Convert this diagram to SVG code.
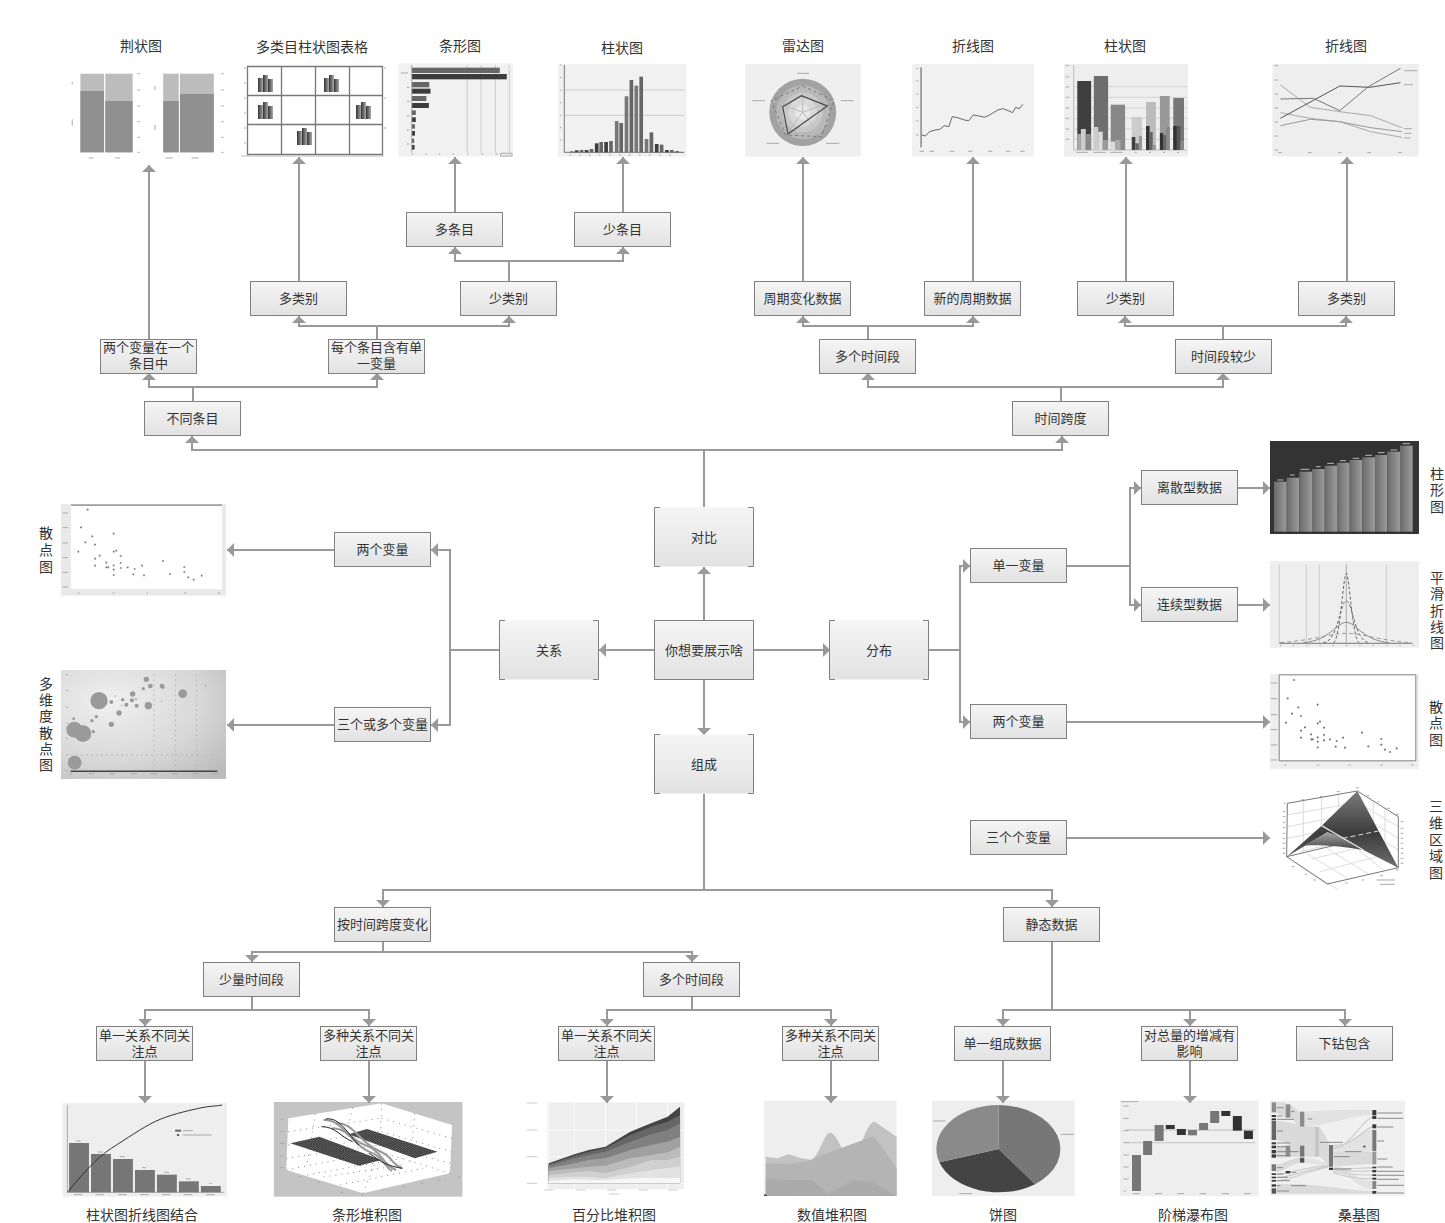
<svg xmlns="http://www.w3.org/2000/svg" width="1445" height="1223" viewBox="0 0 1445 1223">
<style>
text{font-family:"Liberation Sans","Noto Sans CJK SC",sans-serif;fill:#333;text-anchor:middle}
.n text{font-size:13px}
.t{font-size:14px}
.n rect{fill:url(#ng);stroke:#808080;stroke-width:1}
.b rect{fill:url(#ng);stroke:none}
.b path{fill:none;stroke:#808080;stroke-width:1}
#connectors path{fill:none;stroke:#999;stroke-width:2}
.ar{marker-end:url(#arrow)}
.ch *{vector-effect:non-scaling-stroke}
.tk{fill:none;stroke:#aaa;stroke-width:1}
</style>
<defs>
<linearGradient id="ng" x1="0" y1="0" x2="0" y2="1"><stop offset="0" stop-color="#f5f5f5"/><stop offset="1" stop-color="#e2e2e2"/></linearGradient>
<linearGradient id="barh" x1="0" y1="0" x2="1" y2="0"><stop offset="0" stop-color="#6a6a6a"/><stop offset="1" stop-color="#9c9c9c"/></linearGradient>
<linearGradient id="ic" x1="0" y1="0" x2="1" y2="0"><stop offset="0" stop-color="#333"/><stop offset="1" stop-color="#aaa"/></linearGradient>
<linearGradient id="sf" gradientUnits="userSpaceOnUse" x1="0" y1="18" x2="0" y2="248"><stop offset="0" stop-color="#7c7c7c"/><stop offset=".55" stop-color="#3c3c3c"/><stop offset="1" stop-color="#6e6e6e"/></linearGradient>
<linearGradient id="sf2" x1="0" y1="0" x2="0" y2="1"><stop offset="0" stop-color="#a4a4a4"/><stop offset="1" stop-color="#454545"/></linearGradient>
<radialGradient id="bub" cx=".3" cy=".3" r=".9"><stop offset="0" stop-color="#f0f0f0"/><stop offset=".6" stop-color="#d8d8d8"/><stop offset="1" stop-color="#bcbcbc"/></radialGradient>
<pattern id="hatch" patternUnits="userSpaceOnUse" width="7" height="7"><rect width="7" height="7" fill="#666"/><path d="M0 0L7 7M7 0L0 7" stroke="#222" stroke-width="1.500"/></pattern>
<marker id="arrow" markerUnits="userSpaceOnUse" markerWidth="8" markerHeight="16" refX="7" refY="7" orient="auto"><path d="M0 0L7 7L0 14z" fill="#999"/></marker>
<g id="ico"><rect width="5" height="14" y="3" fill="url(#ic)"/><rect x="5" width="5" height="17" fill="url(#ic)"/><rect x="10" y="4" width="5" height="13" fill="url(#ic)"/></g>
</defs>

<g id="chart-jing" class="ch" transform="translate(60 30) scale(.408 .3333)">
<rect x="50" y="131" width="58" height="236" fill="#bcbcbc"/><rect x="111" y="131" width="67" height="236" fill="#bcbcbc"/>
<rect x="50" y="183" width="58" height="184" fill="#909090"/><rect x="111" y="213" width="67" height="154" fill="#909090"/>
<rect x="253" y="131" width="38" height="236" fill="#bcbcbc"/><rect x="294" y="131" width="83" height="236" fill="#bcbcbc"/>
<rect x="253" y="213" width="38" height="154" fill="#909090"/><rect x="294" y="192" width="83" height="175" fill="#909090"/>
<path class="tk" d="M190 131h6M190 180h6M190 228h6M190 275h6M190 322h6M190 367h6M395 131h6M395 180h6M395 228h6M395 275h6M395 322h6M395 367h6M30 155v8M30 268v20M233 168v12M233 285v15M70 384h12M135 384h12M258 384h18M322 384h18"/>
</g>

<g id="chart-grid" transform="translate(60 30)">
<path d="M187.500 36.500H322.500V124.500H187.500zM221.500 36.500V124.500M255.500 36.500V124.500M289.500 36.500V124.500M187.500 65.500H322.500M187.500 94.500H322.500" fill="none" stroke="#777" stroke-width="1.300"/>
<path d="M181 126H324" stroke="#bbb" fill="none" stroke-width="1"/>
<use href="#ico" x="198" y="45"/><use href="#ico" x="264" y="45"/><use href="#ico" x="198" y="72"/><use href="#ico" x="296" y="72"/><use href="#ico" x="237" y="98"/>
<path d="M184.500 38h1M184.500 53h1M184.500 68h1M184.500 83h1M184.500 98h1M184.500 113h1M324.500 38h1M324.500 68h1M324.500 98h1" stroke="#555" fill="none"/>
</g>

<g id="chart-hbar" class="ch" transform="translate(60 30) scale(.408 .3333)">
<rect x="830" y="100" width="280" height="280" fill="#f1f1f1"/>
<path d="M998 105V368M1032 105V368M1067 105V368M1101 105V368" stroke="#ccc" fill="none"/>
<g fill="#666"><rect x="862" y="113" width="216" height="16"/><rect x="862" y="156" width="43" height="16"/><rect x="862" y="198" width="36" height="15"/><rect x="862" y="241" width="10" height="14"/><rect x="862" y="283" width="8" height="13"/><rect x="862" y="326" width="6" height="13"/></g>
<g fill="#3c3c3c"><rect x="862" y="132" width="233" height="16"/><rect x="862" y="176" width="46" height="15"/><rect x="862" y="219" width="42" height="15"/><rect x="862" y="262" width="10" height="14"/><rect x="862" y="303" width="8" height="14"/><rect x="862" y="345" width="7" height="14"/></g>
<path class="tk" d="M862 105V368M835 129h18M850 172h6M850 214h6M850 258h6M850 300h6M850 342h6M862 372h4M895 372h4M928 372h4M962 372h4M998 372h4M1032 372h6M1067 372h6M1080 370h28v8h-28z"/>
</g>

<g id="chart-vbar" class="ch" transform="translate(60 30) scale(.408 .3333)">
<rect x="1220" y="102" width="316" height="278" fill="#f1f1f1"/>
<path d="M1236 180H1530M1236 256H1530" stroke="#ccc" fill="none"/>
<path d="M1236 105V367H1530" stroke="#777" fill="none"/>
<g fill="#666"><rect x="1250" y="364" width="9" height="3"/><rect x="1274" y="360" width="9" height="7"/><rect x="1298" y="357" width="9" height="10"/><rect x="1322" y="336" width="9" height="31"/><rect x="1346" y="333" width="9" height="34"/><rect x="1371" y="279" width="9" height="88"/><rect x="1396" y="150" width="9" height="217"/><rect x="1420" y="140" width="9" height="227"/><rect x="1445" y="307" width="9" height="60"/><rect x="1470" y="344" width="9" height="23"/><rect x="1495" y="360" width="9" height="7"/><rect x="1520" y="366" width="9" height="1"/></g>
<g fill="#3e3e3e"><rect x="1262" y="361" width="9" height="6"/><rect x="1286" y="360" width="9" height="7"/><rect x="1311" y="340" width="9" height="27"/><rect x="1334" y="336" width="9" height="31"/><rect x="1458" y="342" width="9" height="25"/><rect x="1483" y="360" width="9" height="7"/><rect x="1508" y="364" width="9" height="3"/></g>
<g fill="#777"><rect x="1384" y="199" width="9" height="168"/><rect x="1408" y="167" width="9" height="200"/><rect x="1433" y="327" width="9" height="40"/><rect x="1360" y="273" width="9" height="94"/></g>
<path class="tk" d="M1225 105h4M1225 143h4M1225 181h4M1225 218h4M1225 256h4M1225 293h4M1225 330h4M1248 375h5M1272 375h5M1296 375h5M1320 375h5M1345 375h5M1370 375h5M1394 375h5M1418 375h5M1443 375h5M1468 375h5M1493 375h5"/>
</g>

<g id="chart-radar" class="ch" transform="translate(730 30) scale(.4464 .3333)">
<rect x="34" y="102" width="259" height="278" fill="#efefef"/>
<ellipse cx="163" cy="247" rx="75" ry="101" fill="#a2a2a2"/>
<ellipse cx="163" cy="247" rx="60" ry="81" fill="#b8b8b8"/>
<ellipse cx="163" cy="247" rx="45" ry="60" fill="#c8c8c8"/>
<ellipse cx="163" cy="247" rx="32" ry="43" fill="#d8d8d8"/>
<ellipse cx="163" cy="247" rx="17" ry="23" fill="#e8e8e8"/>
<path d="M163 247V168M163 247L233 212M163 247L205 320M163 247L125 315M163 247L92 212" fill="none" stroke="#bbb"/>
<path d="M163 168L233 212L205 320L125 315L92 212z" fill="none" stroke="#777" stroke-dasharray="3 3"/>
<path d="M118 230L160 197L218 228L130 312z" fill="none" stroke="#444" stroke-width="1.100"/>
<path class="tk" d="M150 130h27M50 212h28M248 212h28M82 340h28M215 340h30"/>
</g>

<g id="chart-line1" class="ch" transform="translate(730 30) scale(.4464 .3333)">
<rect x="408" y="102" width="273" height="278" fill="#f1f1f1"/>
<path d="M428 112V352" stroke="#555" fill="none"/>
<path d="M430 315L438 318L447 305L460 300L470 298L480 287L490 290L498 260L510 263L525 270L535 272L545 255L558 258L570 262L580 256L590 248L600 240L612 236L625 243L633 248L640 232L648 236L656 223" fill="none" stroke="#666"/>
<path class="tk" d="M417 115h5M417 153h5M417 193h5M417 233h5M417 273h5M417 315h5M425 364h10M447 364h10M492 364h10M533 364h10M578 364h10M618 364h10M650 364h10"/>
</g>

<g id="chart-col2" class="ch" transform="translate(730 30) scale(.4464 .3333)">
<rect x="748" y="102" width="278" height="278" fill="#eee"/>
<path d="M770 170H1024M770 202H1024M770 234H1024M770 265H1024M770 297H1024M770 328H1024" stroke="#d4d4d4" fill="none"/>
<path d="M770 105V360H1024" stroke="#bbb" fill="none"/>
<rect x="778" y="153" width="31" height="207" fill="#3f3f3f"/><rect x="778" y="312" width="8" height="48" fill="#aaa"/><rect x="786" y="297" width="11" height="63" fill="#ccc"/><rect x="797" y="312" width="12" height="48" fill="#888"/>
<rect x="815" y="138" width="32" height="222" fill="#6e6e6e"/><rect x="815" y="291" width="10" height="69" fill="#ccc"/><rect x="825" y="305" width="10" height="55" fill="#ddd"/><rect x="835" y="330" width="12" height="30" fill="#999"/>
<rect x="853" y="222" width="32" height="138" fill="#ccc"/><rect x="853" y="225" width="32" height="135" fill="#888"/><rect x="853" y="335" width="10" height="25" fill="#ddd"/><rect x="863" y="330" width="12" height="30" fill="#aaa"/><rect x="875" y="303" width="10" height="57" fill="#8a8a8a"/>
<rect x="900" y="261" width="23" height="99" fill="#ccc"/><rect x="900" y="321" width="8" height="39" fill="#3f3f3f"/><rect x="908" y="340" width="8" height="20" fill="#666"/><rect x="916" y="318" width="7" height="42" fill="#999"/>
<rect x="932" y="216" width="22" height="144" fill="#bbb"/><rect x="932" y="288" width="8" height="72" fill="#333"/><rect x="940" y="306" width="7" height="54" fill="#666"/><rect x="947" y="345" width="7" height="15" fill="#999"/>
<rect x="963" y="198" width="22" height="162" fill="#999"/><rect x="963" y="309" width="7" height="51" fill="#333"/><rect x="970" y="315" width="7" height="45" fill="#666"/><rect x="977" y="291" width="8" height="69" fill="#888"/>
<rect x="993" y="204" width="24" height="156" fill="#777"/><rect x="993" y="288" width="8" height="72" fill="#333"/><rect x="1001" y="288" width="8" height="72" fill="#555"/><rect x="1009" y="333" width="8" height="27" fill="#888"/>
<path class="tk" d="M752 107h8M752 141h8M752 171h8M752 202h8M752 234h8M752 265h8M752 297h8M752 328h8M776 367h26M814 367h28M852 367h28M906 367h5M938 367h5M970 367h5M1001 367h5"/>
</g>

<g id="chart-line2" class="ch" transform="translate(730 30) scale(.4464 .3333)">
<rect x="1215" y="102" width="328" height="278" fill="#eee"/>
<g fill="none" stroke-width="1">
<path d="M1233 165L1300 232L1366 245L1435 257L1505 293" stroke="#aaa"/>
<path d="M1233 248L1300 265L1366 275L1435 305L1505 322" stroke="#aaa"/>
<path d="M1233 287L1300 268L1366 275L1435 293L1505 305" stroke="#999"/>
<path d="M1233 207L1307 205L1366 242L1430 170L1502 115" stroke="#777"/>
<path d="M1233 265L1366 168L1433 172L1502 158" stroke="#555"/>
</g>
<path class="tk" d="M1220 107h8M1220 150h8M1220 192h8M1220 234h8M1220 276h8M1220 318h8M1220 360h8M1228 368h8M1295 368h8M1362 368h8M1428 368h8M1497 368h8M1510 122h30M1510 164h20M1510 296h18M1510 310h16M1510 324h14"/>
</g>

<g id="chart-scatter-left" class="ch" transform="translate(30 495) scale(.3333)">
<rect x="93" y="27" width="495" height="275" fill="#e9e9e9"/>
<rect x="123" y="30" width="453" height="252" fill="#fff"/>
<path d="M123 30.500H576" stroke="#808080" stroke-width="1.300" fill="none"/>
<path d="M173 44h.1M153 97h.1M187 124h.1M166 142h.1M195 149h.1M251 116h.1M145 170h.1M251 170h.1M259 167h.1M195 191h.1M209 182h.1M272 183h.1M195 212h.1M229 203h.1M229 217h.1M235 217h.1M251 211h.1M251 224h.1M272 204h.1M272 219h.1M293 217h.1M314 222h.1M336 212h.1M399 198h.1M251 240h.1M310 238h.1M342 241h.1M420 237h.1M463 216h.1M463 231h.1M475 247h.1M491 254h.1M515 242h.1" stroke="#777" stroke-width="1.700" stroke-linecap="square" fill="none"/>
<path class="tk" d="M98 54h16M98 98h16M98 144h16M98 188h16M98 232h16M98 276h16M143 294h6M248 294h6M350 294h4M462 294h6M563 294h8"/>
</g>

<g id="chart-bubble" class="ch" transform="translate(30 495) scale(.3333)">
<rect x="93" y="525" width="495" height="327" fill="url(#bub)"/>
<path d="M372 538V828M436 538V828M500 538V828M123 780H560" stroke="#bbb" stroke-dasharray="2 3" fill="none"/>
<path d="M122 829H562" stroke="#444" stroke-width="1.500" fill="none"/>
<g fill="#9a9a9a"><circle cx="207" cy="617" r="26"/><circle cx="133" cy="704" r="24"/><circle cx="159" cy="716" r="25"/><circle cx="134" cy="803" r="21"/><circle cx="458" cy="596" r="13"/><circle cx="355" cy="632" r="11"/><circle cx="267" cy="654" r="8"/><circle cx="244" cy="688" r="8"/><circle cx="349" cy="553" r="8"/><circle cx="308" cy="597" r="8"/><circle cx="361" cy="573" r="7"/><circle cx="396" cy="573" r="7"/><circle cx="399" cy="577" r="5"/><circle cx="340" cy="581" r="5"/><circle cx="244" cy="621" r="6"/><circle cx="278" cy="614" r="5"/><circle cx="289" cy="629" r="6"/><circle cx="306" cy="616" r="6"/><circle cx="320" cy="632" r="6"/><circle cx="318" cy="613" r="3"/><circle cx="199" cy="665" r="5"/><circle cx="186" cy="677" r="5"/><circle cx="190" cy="710" r="5"/><circle cx="131" cy="671" r="4"/><circle cx="256" cy="603" r="2"/><circle cx="274" cy="631" r="2"/><circle cx="394" cy="619" r="2"/><circle cx="526" cy="572" r="2"/></g>
<path class="tk" d="M108 539h6M108 587h6M108 637h6M108 684h6M108 731h6M108 779h6M108 827h6M118 836h8M176 836h18M238 836h18M302 836h18M362 836h18M425 836h18M488 836h18M548 836h18"/>
</g>

<g id="chart-col-dark" class="ch" transform="translate(1130 430) scale(.3333)">
<rect x="420" y="33" width="447" height="279" fill="#333"/>
<g fill="url(#barh)"><rect x="432" y="155" width="38" height="150"/><rect x="470" y="143" width="38" height="162"/><rect x="508" y="125" width="38" height="180"/><rect x="546" y="117" width="38" height="188"/><rect x="584" y="107" width="37" height="198"/><rect x="621" y="98" width="38" height="207"/><rect x="659" y="90" width="38" height="215"/><rect x="697" y="82" width="38" height="223"/><rect x="735" y="75" width="37" height="230"/><rect x="772" y="65" width="38" height="240"/><rect x="810" y="47" width="38" height="258"/></g>
<path d="M442 150h18M480 135h14M512 118h26M558 110h14M592 100h20M630 92h18M668 85h20M706 76h20M744 68h20M782 60h20M818 41h22" stroke="#bbb" fill="none"/>
</g>

<g id="chart-smooth" class="ch" transform="translate(1130 430) scale(.3333)">
<rect x="420" y="393" width="447" height="260" fill="#eee"/>
<path d="M448 403V640M529 403V640M568 403V640M769 403V640" stroke="#ccc" stroke-width="1" fill="none"/>
<path d="M649 403V640" stroke="#aaa" fill="none"/>
<path d="M448 640H848" stroke="#777" fill="none"/>
<g fill="none" stroke-width="1">
<path d="M610 638C630 636 640 430 649 430C658 430 668 636 688 638" stroke="#666" stroke-dasharray="3 2"/>
<path d="M580 638C625 635 630 513 649 513C668 513 673 635 718 638" stroke="#666" stroke-dasharray="3 2"/>
<path d="M520 638C600 632 620 577 649 577C678 577 698 632 778 638" stroke="#888"/>
<path d="M450 638C560 630 600 610 649 610C698 610 738 630 840 638" stroke="#999" stroke-dasharray="4 3"/>
</g>
<path class="tk" d="M450 647h4M488 647h4M529 647h4M568 647h4M608 647h4M648 647h4M688 647h4M728 647h4M768 647h4M808 647h4M848 647h4"/>
</g>

<g id="chart-scatter-right" class="ch" transform="translate(1250 660) scale(.3333)">
<rect x="60" y="42" width="447" height="285" fill="#eee"/>
<rect x="87.500" y="44.500" width="410" height="258" fill="#fff" stroke="#808080" stroke-width="1"/>
<path d="M132 60h.1M113 115h.1M145 142h.1M126 161h.1M153 168h.1M203 134h.1M108 188h.1M203 190h.1M210 185h.1M153 212h.1M165 202h.1M222 203h.1M153 233h.1M183 223h.1M184 238h.1M188 238h.1M203 232h.1M203 245h.1M222 225h.1M222 241h.1M240 238h.1M260 243h.1M279 233h.1M336 218h.1M203 262h.1M257 260h.1M285 263h.1M355 259h.1M394 237h.1M394 254h.1M405 269h.1M420 276h.1M440 265h.1" stroke="#666" stroke-width="1.700" stroke-linecap="square" fill="none"/>
<path class="tk" d="M62 69h20M62 116h20M62 164h20M62 209h20M62 255h20M62 300h20M103 315h6M200 315h8M296 315h6M391 315h8M483 315h8"/>
</g>

<g id="chart-3d" class="ch" transform="translate(1270 785) scale(.3333)">
<path d="M90 200L300 150M125 222L340 172M150 260L360 205M75 232L205 315M110 205L240 285M170 190L300 270M240 175L340 255M52 90L262 52L385 125M52 125L262 85L385 160M52 160L262 118L385 195M100 46V200M155 36V190M205 28V180M310 48V170M345 68V180" fill="none" stroke="#ddd"/>
<path d="M52 55L262 18L385 95M52 55L50 215M385 95V248M50 215L172 297L385 248M50 215L262 165L385 248" fill="none" stroke="#777"/>
<path d="M50 215L155 122L262 18L385 248L280 195L218 160L172 142L105 182z" fill="url(#sf)"/>
<path d="M105 182L172 142L218 160L280 195C220 185 150 178 105 182z" fill="url(#sf2)"/>
<path d="M155 122L280 195" stroke="#e4e4e4" stroke-width="1.300" fill="none"/>
<path d="M218 160L340 135" stroke="#ddd" stroke-dasharray="5 3" stroke-width="1" fill="none"/>
<path d="M44 52v6M38 80h8M38 95h8M38 112h8M38 128h8M38 145h8M38 160h8M38 175h8M38 190h8M38 205h8M392 110h8M392 130h8M392 145h8M392 160h8M392 175h8M392 190h8M392 205h8M392 220h8M392 235h8M95 44h8M150 34h8M200 20h10M258 8h8M290 32h8M322 50h6M352 70h8M378 88h8M65 245h8M105 268h6M130 285h8M168 297h6M225 294h8M275 285h8M330 272h8M378 255h8M320 285h55M330 298h45" class="tk"/>
</g>

<g id="chart-combo" class="ch" transform="translate(50 1095) scale(.4145 .3333)">
<rect x="30" y="24" width="397" height="281" fill="#eee"/>
<path d="M42 30V292H420" stroke="#aaa" fill="none"/>
<g fill="#767676"><rect x="46" y="144" width="48" height="148"/><rect x="99" y="177" width="48" height="115"/><rect x="152" y="192" width="48" height="100"/><rect x="205" y="225" width="48" height="67"/><rect x="258" y="239" width="48" height="53"/><rect x="311" y="259" width="48" height="33"/><rect x="364" y="273" width="48" height="19"/></g>
<path d="M42 292C70 250 110 190 148 160S220 100 253 80S330 48 359 40S400 34 415 30" fill="none" stroke="#333" stroke-width="1"/>
<rect x="302" y="104" width="14" height="6" fill="#666"/><circle cx="309" cy="120" r="3" fill="#444"/>
<path class="tk" d="M320 107h24M320 120h70M62 138h12M115 171h12M168 185h12M222 218h10M275 232h12M328 252h12M384 265h6M58 299h20M110 299h20M165 299h20M218 299h20M270 299h20M323 299h20M377 299h20"/>
</g>

<g id="chart-stack-3d" class="ch" transform="translate(50 1095) scale(.4145 .3333)">
<rect x="540" y="21" width="455" height="284" fill="#c4c4c4"/>
<path d="M575 70L800 25L970 90L965 235L755 295L570 225z" fill="#fff"/>
<path d="M800 25L795 170M755 295L795 170M570 225L795 170M965 235L795 170M640 56L620 210M730 38L700 195M880 55L870 200M660 246L850 210M575 110L795 70M575 150L795 110M570 190L795 150M800 70L970 130M800 110L968 170M795 150L966 205M620 240L850 190M700 270L900 220" stroke="#888" stroke-dasharray="1 5" fill="none"/>
<path d="M580 145L650 125L800 195L745 212z" fill="url(#hatch)"/>
<path d="M720 118L765 102L935 170L880 190z" fill="url(#hatch)"/>
<g fill="none" stroke="#999" stroke-width="2">
<path d="M660 75C700 70 715 130 760 150S800 210 835 225"/>
<path d="M680 100C725 100 730 150 770 170S805 215 825 228"/>
<path d="M690 85C730 80 745 140 790 165S815 200 850 220"/>
</g>
<path d="M665 72C700 65 720 120 745 150M770 175C790 190 800 210 850 220M655 95C690 95 700 125 730 140" fill="none" stroke="#222" stroke-width="1"/>
<path class="tk" d="M555 72h10M555 110h8M555 145h10M555 183h8M555 218h8M600 245h6M645 262h6M700 292h8M750 298h6M800 285h6M850 275h6M895 265h6M935 255h8M985 245h6" stroke="#666"/>
</g>

<g id="chart-percent" class="ch" transform="translate(50 1095) scale(.4145 .3333)">
<rect x="1200" y="22" width="330" height="261" fill="#eee"/>
<path d="M1203 22V283M1265 22V283M1340 22V283M1415 22V283M1490 22V283M1200 105H1530M1200 185H1530M1200 265H1530" stroke="#fafafa" fill="none"/>
<path d="M1203 205L1265 178L1300 165L1340 155L1400 110L1450 85L1490 65L1520 35V265H1203z" fill="#444"/>
<path d="M1203 208L1265 182L1300 170L1340 160L1400 120L1450 95L1490 80L1520 60V265H1203z" fill="#666"/>
<path d="M1203 212L1265 190L1300 180L1340 170L1400 140L1450 118L1490 105L1520 85V265H1203z" fill="#808080"/>
<path d="M1203 220L1265 205L1300 195L1340 190L1400 165L1450 150L1490 140L1520 125V265H1203z" fill="#a0a0a0"/>
<path d="M1203 228L1265 220L1300 215L1340 212L1400 190L1450 180L1490 172L1520 155V265H1203z" fill="#bbb"/>
<path d="M1203 240L1265 232L1300 228L1340 235L1400 215L1450 195L1490 195L1520 185V265H1203z" fill="#d0d0d0"/>
<path d="M1203 248L1265 245L1300 245L1340 250L1400 235L1450 225L1490 218L1520 215V265H1203z" fill="#e2e2e2"/>
<path d="M1203 258L1265 252L1300 255L1340 255L1400 250L1450 248L1490 250L1520 248V265H1203z" fill="#f6f6f6"/>
<path d="M1150 24h26M1150 105h26M1150 185h26M1150 265h26M1192 285h22M1270 285h22M1345 285h22M1420 285h22M1492 285h22M1348 297h26" fill="none" stroke="#ccc"/>
</g>

<g id="chart-area" class="ch" transform="translate(750 1095) scale(.4273 .3333)">
<rect x="33" y="17" width="310" height="286" fill="#eee"/>
<path d="M37 185L65 190L90 178L120 190L145 195C165 170 175 113 187 113C205 113 220 190 238 205C255 190 270 80 292 80L343 125V303H37z" fill="#c2c2c2"/>
<path d="M37 205L80 207L130 200L190 170L290 123L343 220V303H37z" fill="#b4b4b4"/>
<path d="M37 250L90 255L145 255L185 297L240 255L290 262L343 303H37z" fill="#ababab"/>
<path d="M33 301h6" stroke="#333" stroke-width="1.500" fill="none"/>
</g>

<g id="chart-pie" class="ch" transform="translate(750 1095) scale(.4273 .3333)">
<rect x="426" y="17" width="334" height="286" fill="#eee"/>
<path d="M582 162V30A147 132 0 0 1 667 268z" fill="#777"/>
<path d="M582 162L667 268A147 132 0 0 1 443 202z" fill="#444"/>
<path d="M582 162L443 202A147 132 0 0 1 582 30z" fill="#8a8a8a"/>
<path class="tk" d="M428 78h30M728 118h30M490 296h30"/>
</g>

<g id="chart-waterfall" class="ch" transform="translate(750 1095) scale(.4273 .3333)">
<rect x="866" y="17" width="324" height="286" fill="#eee"/>
<path d="M880 105H1182M880 143H1182" stroke="#ccc" stroke-width="1.300" fill="none"/>
<g fill="#777"><rect x="894" y="180" width="21" height="108"/><rect x="920" y="138" width="21" height="42"/><rect x="947" y="90" width="21" height="48"/><rect x="1025" y="105" width="21" height="16"/><rect x="1051" y="84" width="21" height="21"/><rect x="1077" y="48" width="21" height="36"/></g>
<g fill="#333"><rect x="973" y="90" width="21" height="12"/><rect x="999" y="102" width="21" height="18"/><rect x="1103" y="48" width="21" height="15"/><rect x="1130" y="63" width="21" height="44"/><rect x="1156" y="107" width="21" height="25"/></g>
<path class="tk" d="M868 20h40M874 33h12M874 70h12M874 107h12M874 143h12M874 180h12M874 216h12M874 252h12M874 288h6M896 296h16M948 296h16M1000 296h16M1052 296h16M1105 296h16M1156 296h16"/>
</g>

<g id="chart-sankey" class="ch" transform="translate(1265 1095) scale(.3333)">
<rect x="15" y="17" width="405" height="285" fill="#f0f0f0"/>
<g fill="#dadada">
<path d="M33 22H62V70L33 52z"/>
<path d="M76 30C90 35 95 50 105 50V95C90 90 88 70 76 70z"/>
<path d="M33 78C80 78 100 95 150 95V185C120 185 60 135 33 135z"/>
<path d="M118 50C200 44 280 44 322 44V60C260 60 200 90 118 95z" fill="#e2e2e2"/>
<path d="M162 95C175 110 190 135 192 150V215C175 190 165 185 162 185z"/>
<path d="M204 150C260 165 280 105 322 105V168C280 168 260 180 204 180z" fill="#e2e2e2"/>
<path d="M204 170H322V208C280 208 250 212 204 215z"/>
<path d="M204 205C250 225 280 258 322 258V282C280 282 250 235 204 215z" fill="#e2e2e2"/>
<path d="M33 152H62V188H33zM76 152H105V185H76z"/>
<path d="M33 210C60 205 80 188 105 188V203C80 205 60 230 33 230z"/>
<path d="M33 268C150 262 250 288 322 288V296H33z"/>
<path d="M118 152C130 152 140 160 150 160V185C140 185 130 185 118 185z"/>
<path d="M118 190C150 190 170 200 192 205V215C170 210 150 205 118 203z" fill="#e2e2e2"/>
</g>
<path d="M204 220C260 225 285 218 322 218M204 224C260 232 285 228 322 228M204 228C260 240 285 240 322 240M204 232C260 250 285 251 322 251M204 150C250 160 290 110 322 95M204 158C250 165 290 75 322 66M33 238C70 238 120 215 192 212M33 248C70 248 120 225 192 214M33 258C70 258 120 230 192 216" fill="none" stroke="#ccc" stroke-width="1.200"/>
<g fill="#777"><rect x="20" y="22" width="13" height="30" fill="#8c8c8c"/><rect x="20" y="78" width="13" height="57" fill="#666"/><rect x="20" y="208" width="13" height="20"/><rect x="20" y="280" width="13" height="16" fill="#555"/><rect x="62" y="28" width="14" height="40" fill="#8c8c8c"/><rect x="62" y="152" width="14" height="33" fill="#8c8c8c"/><rect x="105" y="50" width="13" height="45" fill="#8c8c8c"/><rect x="105" y="152" width="13" height="33"/><rect x="105" y="188" width="13" height="15" fill="#555"/><rect x="192" y="150" width="12" height="65"/><rect x="322" y="105" width="12" height="63"/><rect x="322" y="170" width="12" height="38" fill="#999"/><rect x="322" y="258" width="12" height="24" fill="#888"/></g>
<rect x="150" y="95" width="12" height="90" fill="#c6c6c6"/>
<g fill="#383838"><rect x="20" y="60" width="13" height="6"/><rect x="20" y="70" width="13" height="6"/><rect x="20" y="142" width="13" height="6"/><rect x="20" y="152" width="13" height="8"/><rect x="20" y="165" width="13" height="10"/><rect x="20" y="178" width="13" height="10"/><rect x="20" y="235" width="13" height="5"/><rect x="20" y="245" width="13" height="5"/><rect x="20" y="255" width="13" height="5"/><rect x="20" y="268" width="13" height="7"/><rect x="62" y="228" width="14" height="7"/><rect x="192" y="218" width="12" height="7"/><rect x="322" y="45" width="12" height="15"/><rect x="322" y="62" width="12" height="10"/><rect x="322" y="88" width="12" height="12"/><rect x="322" y="215" width="12" height="5"/><rect x="322" y="225" width="12" height="7"/><rect x="322" y="238" width="12" height="5"/><rect x="322" y="248" width="12" height="6"/><rect x="322" y="288" width="12" height="8"/><rect x="295" y="152" width="6" height="5"/></g>
<path d="M36 38h20M36 63h16M36 73h50M36 108h18M36 144h40M36 155h30M36 170h45M36 182h40M36 218h18M36 237h20M36 247h32M36 257h40M36 272h10M36 288h36M78 50h10M80 170h22M80 232h14M78 272h46M128 72h14M165 142h68M207 185h48M207 222h52M240 170h50M337 54h75M337 70h78M337 96h48M337 138h20M337 192h30M337 216h46M337 229h80M337 241h80M337 253h64M337 271h80M337 294h80" fill="none" stroke="#888" stroke-width="1"/>
</g>

<g id="connectors">
<path class="ar" d="M704 620V567"/><path class="ar" d="M655 650H599"/><path class="ar" d="M753 650H830"/><path class="ar" d="M704 680V735"/>
<path class="ar" d="M704 507V450H192V436"/><path class="ar" d="M704 450H1062V436"/>
<path class="ar" d="M193 401V387H149V373"/><path class="ar" d="M193 387H377V373"/>
<path class="ar" d="M377 339V326H299V316"/><path class="ar" d="M377 326H509V316"/>
<path class="ar" d="M149 339V165"/><path class="ar" d="M299 281V157"/>
<path class="ar" d="M509 281V261H455V247"/><path class="ar" d="M509 261H623V247"/>
<path class="ar" d="M455 212V157"/><path class="ar" d="M623 212V157"/>
<path class="ar" d="M1061 401V387H868V373"/><path class="ar" d="M1061 387H1223V373"/>
<path class="ar" d="M868 339V326H803V316"/><path class="ar" d="M868 326H973V316"/>
<path class="ar" d="M1223 339V326H1125V316"/><path class="ar" d="M1223 326H1346V316"/>
<path class="ar" d="M803 281V157"/><path class="ar" d="M973 281V157"/><path class="ar" d="M1126 281V157"/><path class="ar" d="M1347 281V157"/>
<path class="ar" d="M499 650H450V550H431"/><path class="ar" d="M450 650V725H431"/>
<path class="ar" d="M334 550H227"/><path class="ar" d="M334 725H227"/>
<path class="ar" d="M929 650H960V566H970"/><path class="ar" d="M960 650V722H970"/>
<path class="ar" d="M1067 566H1130V488H1141"/><path class="ar" d="M1130 566V605H1141"/>
<path class="ar" d="M1238 488H1270"/><path class="ar" d="M1238 605H1270"/><path class="ar" d="M1067 722H1270"/><path class="ar" d="M1067 838H1270"/>
<path class="ar" d="M704 794V890H383V907"/><path class="ar" d="M704 890H1052V907"/>
<path class="ar" d="M383 941V952H252V962"/><path class="ar" d="M383 952H692V962"/>
<path class="ar" d="M1052 941V1010H1003V1026"/><path class="ar" d="M1052 1010H1190V1026"/><path class="ar" d="M1052 1010H1345V1026"/>
<path class="ar" d="M252 996V1010H145V1026"/><path class="ar" d="M252 1010H369V1026"/>
<path class="ar" d="M692 996V1010H607V1026"/><path class="ar" d="M692 1010H831V1026"/>
<path class="ar" d="M145 1060V1103"/><path class="ar" d="M369 1060V1103"/><path class="ar" d="M607 1060V1103"/><path class="ar" d="M831 1060V1103"/><path class="ar" d="M1003 1060V1103"/><path class="ar" d="M1190 1060V1103"/>
</g>

<g id="n-center" class="n"><rect x="654.500" y="620.500" width="99" height="59"/><text x="704" y="654.500">你想要展示啥</text></g>
<g id="n-duibi" class="n b"><rect x="654.500" y="507.500" width="99" height="59"/><path d="M660 507.500H654.500V566.500H660M748 507.500H753.500V566.500H748"/><text x="704" y="541.500">对比</text></g>
<g id="n-guanxi" class="n b"><rect x="499.500" y="620.500" width="99" height="59"/><path d="M505 620.500H499.500V679.500H505M593 620.500H598.500V679.500H593"/><text x="549" y="654.500">关系</text></g>
<g id="n-fenbu" class="n b"><rect x="829.500" y="620.500" width="99" height="59"/><path d="M835 620.500H829.500V679.500H835M923 620.500H928.500V679.500H923"/><text x="879" y="654.500">分布</text></g>
<g id="n-zucheng" class="n b"><rect x="654.500" y="734.500" width="99" height="59"/><path d="M660 734.500H654.500V793.500H660M748 734.500H753.500V793.500H748"/><text x="704" y="768.500">组成</text></g>

<g id="n-bothin" class="n"><rect x="100.500" y="339.500" width="96" height="34"/><text x="148.500" y="352">两个变量在一个</text><text x="148.500" y="368">条目中</text></g>
<g id="n-each" class="n"><rect x="328.500" y="339.500" width="96" height="34"/><text x="376.500" y="352">每个条目含有单</text><text x="376.500" y="368">一变量</text></g>
<g id="n-duolei1" class="n"><rect x="250.500" y="281.500" width="96" height="34"/><text x="298.500" y="303">多类别</text></g>
<g id="n-shaolei1" class="n"><rect x="460.500" y="281.500" width="96" height="34"/><text x="508.500" y="303">少类别</text></g>
<g id="n-butong" class="n"><rect x="144.500" y="401.500" width="96" height="34"/><text x="192.500" y="423">不同条目</text></g>
<g id="n-duotiao" class="n"><rect x="406.500" y="212.500" width="96" height="34"/><text x="454.500" y="234">多条目</text></g>
<g id="n-shaotiao" class="n"><rect x="574.500" y="212.500" width="96" height="34"/><text x="622.500" y="234">少条目</text></g>
<g id="n-zhouqi" class="n"><rect x="754.500" y="281.500" width="96" height="34"/><text x="802.500" y="303">周期变化数据</text></g>
<g id="n-xinzhouqi" class="n"><rect x="924.500" y="281.500" width="96" height="34"/><text x="972.500" y="303">新的周期数据</text></g>
<g id="n-shaolei2" class="n"><rect x="1077.500" y="281.500" width="96" height="34"/><text x="1125.500" y="303">少类别</text></g>
<g id="n-duolei2" class="n"><rect x="1298.500" y="281.500" width="96" height="34"/><text x="1346.500" y="303">多类别</text></g>
<g id="n-duoshi1" class="n"><rect x="819.500" y="339.500" width="96" height="34"/><text x="867.500" y="361">多个时间段</text></g>
<g id="n-shishao" class="n"><rect x="1175.500" y="339.500" width="96" height="34"/><text x="1223.500" y="361">时间段较少</text></g>
<g id="n-kuadu" class="n"><rect x="1012.500" y="401.500" width="96" height="34"/><text x="1060.500" y="423">时间跨度</text></g>
<g id="n-liang1" class="n"><rect x="334.500" y="532.500" width="96" height="34"/><text x="382.500" y="554">两个变量</text></g>
<g id="n-san1" class="n"><rect x="334.500" y="707.500" width="96" height="34"/><text x="382.500" y="729">三个或多个变量</text></g>
<g id="n-danyi" class="n"><rect x="970.500" y="548.500" width="96" height="34"/><text x="1018.500" y="570">单一变量</text></g>
<g id="n-liang2" class="n"><rect x="970.500" y="704.500" width="96" height="34"/><text x="1018.500" y="726">两个变量</text></g>
<g id="n-san2" class="n"><rect x="970.500" y="820.500" width="96" height="34"/><text x="1018.500" y="842">三个个变量</text></g>
<g id="n-lisan" class="n"><rect x="1141.500" y="470.500" width="96" height="34"/><text x="1189.500" y="492">离散型数据</text></g>
<g id="n-lianxu" class="n"><rect x="1141.500" y="587.500" width="96" height="34"/><text x="1189.500" y="609">连续型数据</text></g>
<g id="n-anshi" class="n"><rect x="334.500" y="907.500" width="96" height="34"/><text x="382.500" y="929">按时间跨度变化</text></g>
<g id="n-jingtai" class="n"><rect x="1003.500" y="907.500" width="96" height="34"/><text x="1051.500" y="929">静态数据</text></g>
<g id="n-shaoliang" class="n"><rect x="203.500" y="962.500" width="96" height="34"/><text x="251.500" y="984">少量时间段</text></g>
<g id="n-duoshi2" class="n"><rect x="643.500" y="962.500" width="96" height="34"/><text x="691.500" y="984">多个时间段</text></g>
<g id="n-dan1" class="n"><rect x="96.500" y="1026.500" width="96" height="34"/><text x="144.500" y="1040">单一关系不同关</text><text x="144.500" y="1056">注点</text></g>
<g id="n-duo1" class="n"><rect x="320.500" y="1026.500" width="96" height="34"/><text x="368.500" y="1040">多种关系不同关</text><text x="368.500" y="1056">注点</text></g>
<g id="n-dan2" class="n"><rect x="558.500" y="1026.500" width="96" height="34"/><text x="606.500" y="1040">单一关系不同关</text><text x="606.500" y="1056">注点</text></g>
<g id="n-duo2" class="n"><rect x="782.500" y="1026.500" width="96" height="34"/><text x="830.500" y="1040">多种关系不同关</text><text x="830.500" y="1056">注点</text></g>
<g id="n-zu" class="n"><rect x="954.500" y="1026.500" width="96" height="34"/><text x="1002.500" y="1048">单一组成数据</text></g>
<g id="n-zong" class="n"><rect x="1141.500" y="1026.500" width="96" height="34"/><text x="1189.500" y="1040">对总量的增减有</text><text x="1189.500" y="1056">影响</text></g>
<g id="n-xia" class="n"><rect x="1296.500" y="1026.500" width="96" height="34"/><text x="1344.500" y="1048">下钻包含</text></g>

<g id="labels">
<text class="t" x="141" y="51">荆状图</text><text class="t" x="312" y="52">多类目柱状图表格</text><text class="t" x="460" y="51">条形图</text><text class="t" x="622" y="53">柱状图</text><text class="t" x="803" y="51">雷达图</text><text class="t" x="973" y="51">折线图</text><text class="t" x="1125" y="51">柱状图</text><text class="t" x="1346" y="51">折线图</text>
<text class="t" x="142" y="1220">柱状图折线图结合</text><text class="t" x="367" y="1220">条形堆积图</text><text class="t" x="614" y="1220">百分比堆积图</text><text class="t" x="832" y="1220">数值堆积图</text><text class="t" x="1003" y="1220">饼图</text><text class="t" x="1193" y="1220">阶梯瀑布图</text><text class="t" x="1359" y="1220">桑基图</text>
<text class="t" x="1437" y="479"><tspan x="1437">柱</tspan><tspan x="1437" dy="16.300">形</tspan><tspan x="1437" dy="16.300">图</tspan></text>
<text class="t" x="1437" y="583"><tspan x="1437">平</tspan><tspan x="1437" dy="16.300">滑</tspan><tspan x="1437" dy="16.300">折</tspan><tspan x="1437" dy="16.300">线</tspan><tspan x="1437" dy="16.300">图</tspan></text>
<text class="t" x="1436" y="712"><tspan x="1436">散</tspan><tspan x="1436" dy="16.300">点</tspan><tspan x="1436" dy="16.300">图</tspan></text>
<text class="t" x="1436" y="811"><tspan x="1436">三</tspan><tspan x="1436" dy="16.800">维</tspan><tspan x="1436" dy="16.800">区</tspan><tspan x="1436" dy="16.800">域</tspan><tspan x="1436" dy="16.800">图</tspan></text>
<text class="t" x="46" y="538"><tspan x="46">散</tspan><tspan x="46" dy="16.800">点</tspan><tspan x="46" dy="16.800">图</tspan></text>
<text class="t" x="46" y="689"><tspan x="46">多</tspan><tspan x="46" dy="16.200">维</tspan><tspan x="46" dy="16.200">度</tspan><tspan x="46" dy="16.200">散</tspan><tspan x="46" dy="16.200">点</tspan><tspan x="46" dy="16.200">图</tspan></text>
</g>
</svg>
